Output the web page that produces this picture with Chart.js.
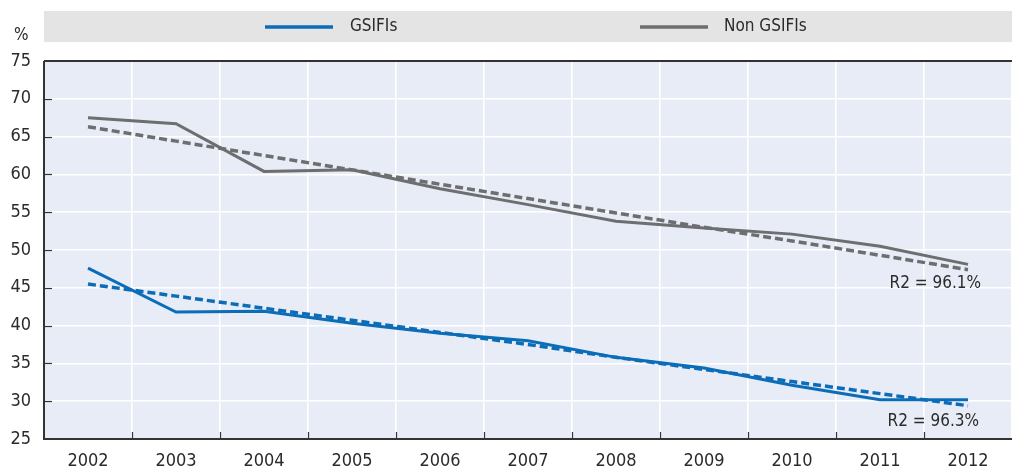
<!DOCTYPE html>
<html><head><meta charset="utf-8">
<script src="https://cdn.jsdelivr.net/npm/chart.js@4.4.1/dist/chart.umd.min.js"></script>
<style>html,body{margin:0;padding:0;background:#fff;}#wrap{width:1012px;height:471px;position:relative;}</style>
</head><body><div id="wrap"><canvas id="c" width="1012" height="471"></canvas></div>
<script>
const years = ['2002','2003','2004','2005','2006','2007','2008','2009','2010','2011','2012'];
const gsifis = [47.6, 41.8, 41.9, 40.3, 39.0, 38.0, 35.8, 34.4, 32.1, 30.2, 30.2];
const nonGsifis = [67.5, 66.7, 60.4, 60.6, 58.1, 56.0, 53.8, 52.9, 52.1, 50.5, 48.1];
const gsifisTrend = [45.5, 43.9, 42.3, 40.7, 39.1, 37.5, 35.8, 34.2, 32.6, 31.0, 29.4];
const nonGsifisTrend = [66.3, 64.4, 62.5, 60.6, 58.7, 56.8, 54.9, 53.0, 51.2, 49.3, 47.4];
const yTicks = [25, 30, 35, 40, 45, 50, 55, 60, 65, 70, 75];
const seriesNames = ['GSIFIs', 'Non GSIFIs'];
const r2Labels = ['R2 = 96.3%', 'R2 = 96.1%'];
const unitLabel = '%';

const FONT = "'Liberation Sans Narrow','DejaVu Sans Condensed','Roboto Condensed',sans-serif";
const BLUE = '#0b6db7';
const GREY = '#6d6e70';
const TXT = '#2b2b2b';

const deco = {
  id: 'deco',
  beforeDraw(chart) {
    const {ctx, chartArea: a} = chart;
    ctx.save();
    ctx.fillStyle = '#e8ecf6';
    ctx.fillRect(a.left, a.top, a.right - a.left, a.bottom - a.top);
    ctx.fillStyle = '#e4e4e4';
    ctx.fillRect(a.left, 11, chart.width - a.left, 31);
    ctx.restore();
  },
  afterDatasetsDraw(chart) {
    const {ctx, chartArea: a, scales: {x, y}} = chart;
    ctx.save();
    ctx.strokeStyle = '#333';
    ctx.lineWidth = 2;
    ctx.beginPath(); ctx.moveTo(a.left, a.top); ctx.lineTo(a.right, a.top); ctx.stroke();
    ctx.beginPath(); ctx.moveTo(a.left, a.top); ctx.lineTo(a.left, a.bottom); ctx.stroke();
    ctx.beginPath(); ctx.moveTo(a.left - 1, a.bottom); ctx.lineTo(a.right, a.bottom); ctx.stroke();
    ctx.lineWidth = 1.2;
    yTicks.forEach(v => {
      if (v === 25 || v === 75) return;
      const py = Math.round(y.getPixelForValue(v)) + 0.5;
      ctx.beginPath(); ctx.moveTo(a.left, py); ctx.lineTo(a.left + 8, py); ctx.stroke();
    });
    for (let i = 1; i < years.length; i++) {
      const px = Math.round((x.getPixelForValue(i - 1) + x.getPixelForValue(i)) / 2) + 0.5;
      ctx.beginPath(); ctx.moveTo(px, a.bottom); ctx.lineTo(px, a.bottom - 7); ctx.stroke();
    }
    ctx.lineWidth = 3.5;
    ctx.font = '17px ' + FONT;
    ctx.textBaseline = 'middle';
    ctx.fillStyle = TXT;
    const items = [[265, 350, BLUE, seriesNames[0]], [640, 724, GREY, seriesNames[1]]];
    items.forEach(([lx, tx, col, name]) => {
      ctx.strokeStyle = col;
      ctx.beginPath(); ctx.moveTo(lx, 27); ctx.lineTo(lx + 68, 27); ctx.stroke();
      ctx.fillText(name, tx, 27);
    });
    ctx.textAlign = 'left';
    ctx.fillText(unitLabel, 14, 36);
    ctx.textAlign = 'right';
    ctx.fillText(r2Labels[1], 981, 284);
    ctx.fillText(r2Labels[0], 979, 422);
    ctx.restore();
  }
};

new Chart(document.getElementById('c'), {
  type: 'line',
  data: {
    labels: years,
    datasets: [
      {label: seriesNames[1] + ' trend', data: nonGsifisTrend, borderColor: GREY, borderWidth: 3.5, borderDash: [8, 4], pointRadius: 0, tension: 0},
      {label: seriesNames[0] + ' trend', data: gsifisTrend, borderColor: BLUE, borderWidth: 3.5, borderDash: [8, 4], pointRadius: 0, tension: 0},
      {label: seriesNames[1], data: nonGsifis, borderColor: GREY, borderWidth: 3, pointRadius: 0, tension: 0},
      {label: seriesNames[0], data: gsifis, borderColor: BLUE, borderWidth: 3, pointRadius: 0, tension: 0}
    ]
  },
  options: {
    responsive: false,
    animation: false,
    layout: {padding: {top: 61, right: 0, left: 0, bottom: 0}},
    plugins: {legend: {display: false}, tooltip: {enabled: false}},
    scales: {
      x: {
        offset: true,
        grid: {offset: true, color: '#ffffff', lineWidth: 1.5, drawTicks: false},
        border: {display: false},
        ticks: {color: TXT, font: {family: FONT, size: 18}, padding: 12, maxRotation: 0},
        afterFit(s) { s.height = 32; }
      },
      y: {
        min: 25, max: 75,
        afterBuildTicks(s) { s.ticks = yTicks.map(v => ({value: v})); },
        grid: {color: '#ffffff', lineWidth: 1.5, drawTicks: false},
        border: {display: false},
        ticks: {color: TXT, font: {family: FONT, size: 18}, padding: 13},
        afterFit(s) { s.width = 44; }
      }
    }
  },
  plugins: [deco]
});
</script></body></html>
